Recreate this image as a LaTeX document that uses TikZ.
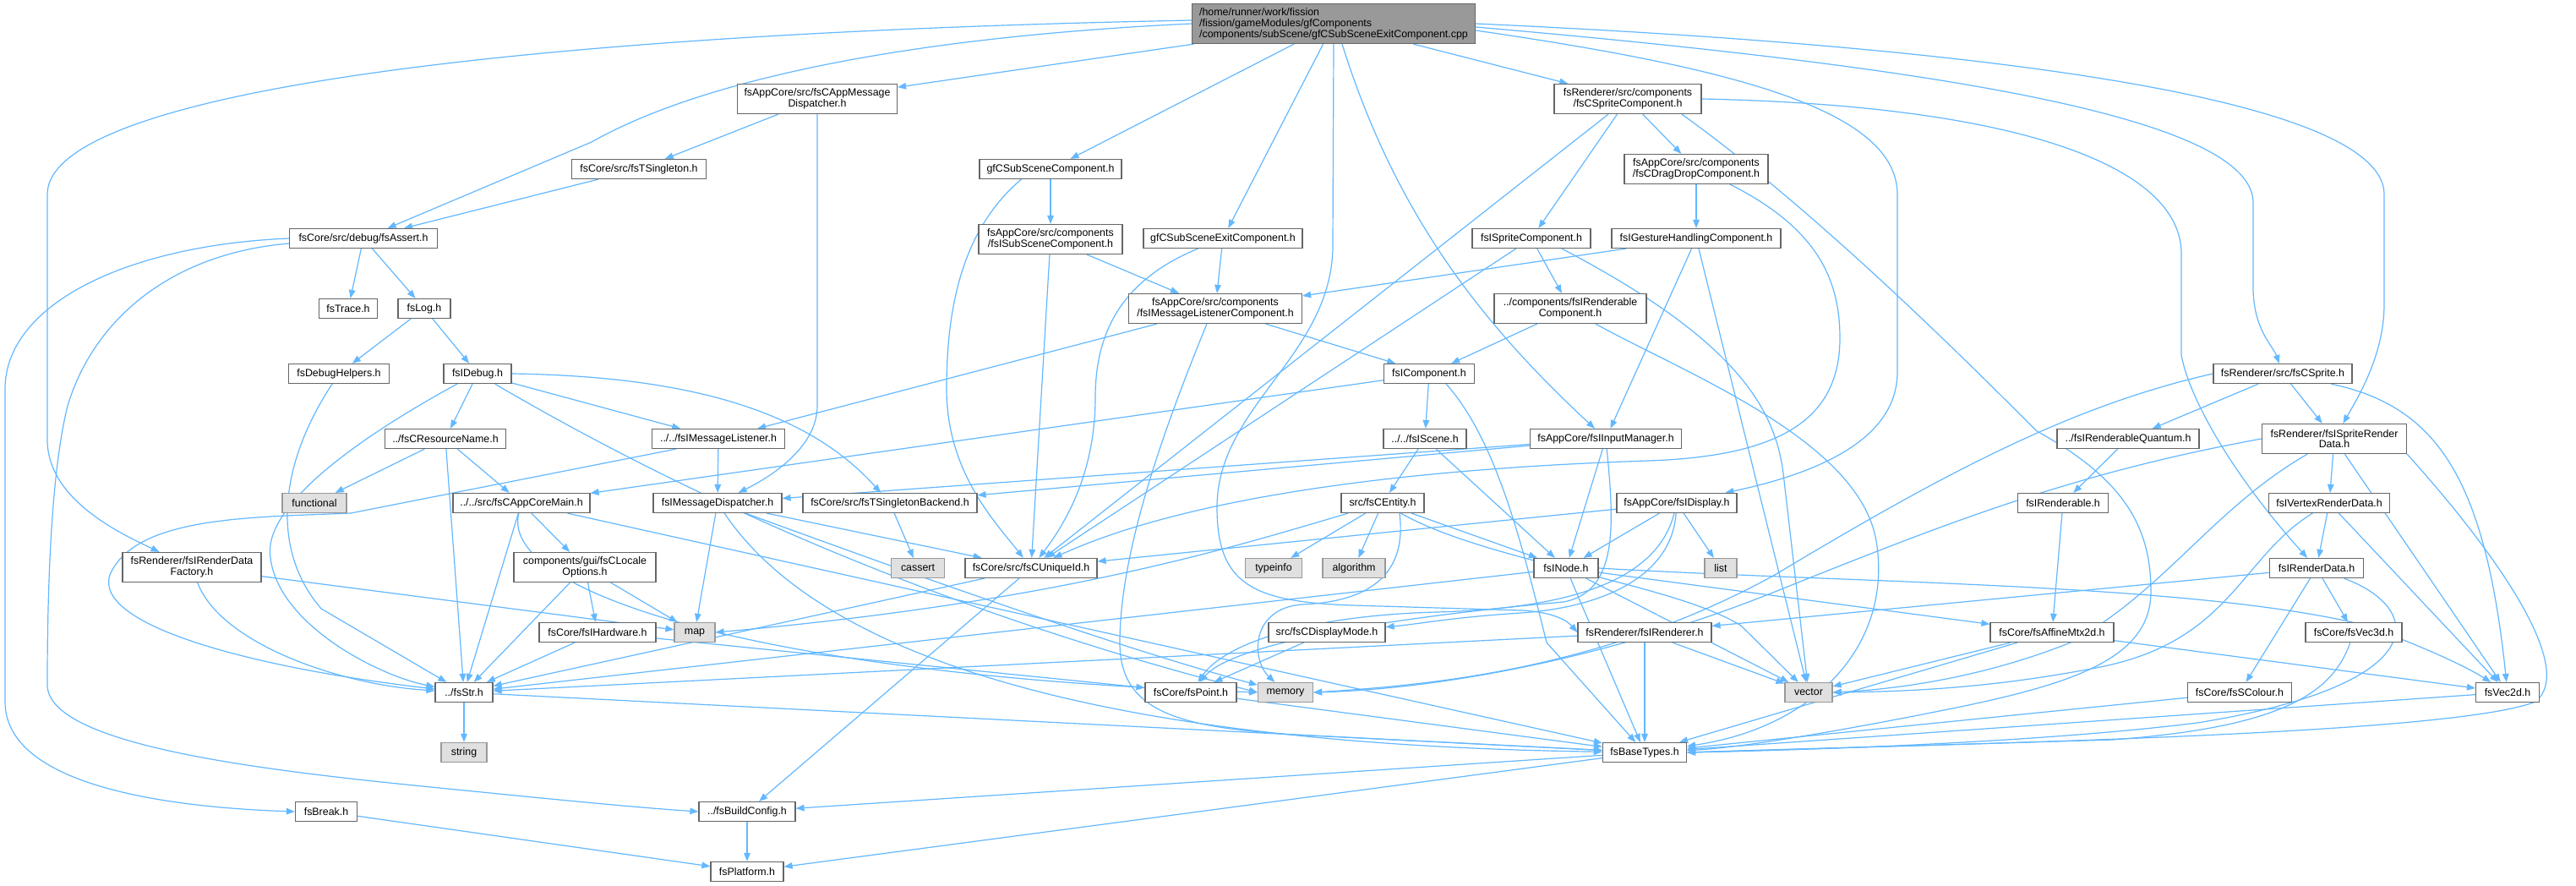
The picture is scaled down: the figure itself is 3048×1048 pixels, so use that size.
\documentclass[tikz,border=0pt]{standalone}
\usepackage{fontspec}
\setmainfont{Liberation Sans}
\usetikzlibrary{arrows.meta}
\pgfdeclarelayer{bg}
\pgfsetlayers{bg,main}
\definecolor{edgec}{HTML}{63B8FF}
\definecolor{bord}{HTML}{666666}
\definecolor{gfill}{HTML}{E0E0E0}
\definecolor{gbord}{HTML}{999999}
\definecolor{mfill}{HTML}{999999}
\begin{document}
\begin{tikzpicture}[x=0.5pt,y=-0.5pt,
  nb/.style={draw=bord, fill=white, line width=0.6pt, inner sep=0pt, minimum height=11.5pt, align=center, font=\fontsize{6.2pt}{6.4pt}\selectfont},
  gb/.style={nb, draw=gbord, fill=gfill},
  mb/.style={nb, fill=mfill, align=left, minimum height=23.5pt},
  tl/.style={minimum height=17.5pt},
  bw/.style={minimum width=#1*0.5pt},
  lk/.style={draw=edgec, line width=0.6pt, -{Triangle[length=5pt,width=3.8pt]}}]
\useasboundingbox (0,0) rectangle (3048,1048);
% ---------------- nodes ----------------
\node[mb, bw=335] (root) at (1578,28) {/home/runner/work/fission\\/fission/gameModules/gfComponents\\/components/subScene/gfCSubSceneExitComponent.cpp};
\node[nb, tl, bw=189] (appmsg) at (967,117) {fsAppCore/src/fsCAppMessage\\Dispatcher.h};
\node[nb, tl, bw=174] (spritecomp) at (1926,117) {fsRenderer/src/components\\/fsCSpriteComponent.h};
\node[nb, bw=159] (tsingleton) at (756,200) {fsCore/src/fsTSingleton.h};
\node[nb, bw=168] (subscene) at (1243,200) {gfCSubSceneComponent.h};
\node[nb, tl, bw=170] (dragdrop) at (2007,200) {fsAppCore/src/components\\/fsCDragDropComponent.h};
\node[nb, bw=175] (assert) at (430,282) {fsCore/src/debug/fsAssert.h};
\node[nb, tl, bw=170] (isubscene) at (1243,283) {fsAppCore/src/components\\/fsISubSceneComponent.h};
\node[nb, bw=188] (exitcomp) at (1447,282) {gfCSubSceneExitComponent.h};
\node[nb, bw=140] (ispritecomp) at (1812,282) {fsISpriteComponent.h};
\node[nb, bw=200] (gesture) at (2007,282) {fsIGestureHandlingComponent.h};
\node[nb, bw=69] (trace) at (412,365) {fsTrace.h};
\node[nb, bw=62] (log) at (502,365) {fsLog.h};
\node[nb, tl, bw=205] (msglistcomp) at (1438,365) {fsAppCore/src/components\\/fsIMessageListenerComponent.h};
\node[nb, tl, bw=180] (renderablecomp) at (1858,365) {../components/fsIRenderable\\Component.h};
\node[nb, bw=119] (debughelpers) at (401,442) {fsDebugHelpers.h};
\node[nb, bw=80] (idebug) at (565,442) {fsIDebug.h};
\node[nb, bw=107] (icomponent) at (1691,442) {fsIComponent.h};
\node[nb, bw=164] (csprite) at (2701,442) {fsRenderer/src/fsCSprite.h};
\node[nb, bw=143] (resname) at (527,519) {../fsCResourceName.h};
\node[nb, bw=157] (msglistener) at (850,519) {../../fsIMessageListener.h};
\node[nb, bw=98] (iscene) at (1686,519) {../../fsIScene.h};
\node[nb, bw=179] (inputmgr) at (1900,519) {fsAppCore/fsIInputManager.h};
\node[nb, bw=168] (rquantum) at (2518,519) {../fsIRenderableQuantum.h};
\node[nb, tl, bw=171] (spriterd) at (2762,519) {fsRenderer/fsISpriteRender\\Data.h};
\node[gb, bw=76] (functional) at (372,595) {functional};
\node[nb, bw=162] (appcoremain) at (617,595) {../../src/fsCAppCoreMain.h};
\node[nb, bw=152] (msgdisp) at (849,595) {fsIMessageDispatcher.h};
\node[nb, bw=206] (tsbackend) at (1053,595) {fsCore/src/fsTSingletonBackend.h};
\node[nb, bw=98] (centity) at (1636,595) {src/fsCEntity.h};
\node[nb, bw=142] (idisplay) at (1984,595) {fsAppCore/fsIDisplay.h};
\node[nb, bw=107] (irenderable) at (2441,595) {fsIRenderable.h};
\node[nb, bw=143] (vertexrd) at (2756,595) {fsIVertexRenderData.h};
\node[nb, tl, bw=164] (rdfactory) at (227,671) {fsRenderer/fsIRenderData\\Factory.h};
\node[nb, tl, bw=168] (locale) at (692,671) {components/gui/fsCLocale\\Options.h};
\node[gb, bw=63] (cassert) at (1086,672) {cassert};
\node[nb, bw=156] (uniqueid) at (1220,672) {fsCore/src/fsCUniqueId.h};
\node[gb, bw=67] (typeinfo) at (1507,672) {typeinfo};
\node[gb, bw=74] (algorithm) at (1602,672) {algorithm};
\node[nb, bw=76] (inode) at (1853,672) {fsINode.h};
\node[gb, bw=38] (list) at (2036,672) {list};
\node[nb, bw=111] (renderdata) at (2741,672) {fsIRenderData.h};
\node[nb, bw=138] (hardware) at (707,748) {fsCore/fsIHardware.h};
\node[gb, bw=48] (map) at (822,748) {map};
\node[nb, bw=138] (displaymode) at (1570,748) {src/fsCDisplayMode.h};
\node[nb, bw=158] (irenderer) at (1946,748) {fsRenderer/fsIRenderer.h};
\node[nb, bw=146] (affine) at (2428,748) {fsCore/fsAffineMtx2d.h};
\node[nb, bw=114] (vec3d) at (2785,748) {fsCore/fsVec3d.h};
\node[nb, bw=68] (str) at (549,819) {../fsStr.h};
\node[nb, bw=108] (point) at (1409,819) {fsCore/fsPoint.h};
\node[gb, bw=65] (memory) at (1521,819) {memory};
\node[gb, bw=56] (vector) at (2140,819) {vector};
\node[nb, bw=123] (scolour) at (2650,819) {fsCore/fsSColour.h};
\node[nb, bw=75] (vec2d) at (2967,819) {fsVec2d.h};
\node[gb, bw=54] (string) at (549,890) {string};
\node[nb, bw=99] (basetypes) at (1946,890) {fsBaseTypes.h};
\node[nb, bw=73] (break) at (386,960) {fsBreak.h};
\node[nb, bw=114] (buildconfig) at (884,960) {../fsBuildConfig.h};
\node[nb, bw=86] (platform) at (884,1031) {fsPlatform.h};
% ---------------- edges ----------------
\begin{pgfonlayer}{bg}
\fill[white] (0,0) rectangle (3048,1048);
% root
\draw[lk] (root.west) .. controls (1050,45) and (820,100) .. (700,168) -- (assert);
\draw[lk] ([yshift=2pt]root.west) .. controls (600,40) and (56,110) .. (56,230) -- (56,520) .. controls (56,590) and (140,630) .. (rdfactory);
\draw[lk] (root) -- (appmsg);
\draw[lk] (root) -- (subscene);
\draw[lk] (root) -- (exitcomp);
\draw[lk] (root.south) -- (1577,290) .. controls (1577,420) and (1440,480) .. (1440,600) .. controls (1440,690) and (1480,712) .. (1600,716) -- (1800,722) .. controls (1840,724) and (1855,735) .. (irenderer.west);
\draw[lk] ([xshift=5pt]root.south) .. controls (1650,250) and (1750,380) .. (inputmgr);
\draw[lk] (root) -- (spritecomp);
\draw[lk] ([yshift=-4pt]root.east) .. controls (2050,80) and (2245,130) .. (2245,230) -- (2245,440) .. controls (2245,520) and (2150,560) .. (idisplay);
\draw[lk] ([yshift=-2pt]root.east) .. controls (2300,80) and (2666,140) .. (2666,240) -- (2666,340) .. controls (2666,390) and (2690,410) .. (csprite);
\draw[lk] (root.east) .. controls (2450,60) and (2821,130) .. (2821,230) -- (2821,360) .. controls (2821,420) and (2790,470) .. (spriterd);
% level 1-3
\draw[lk] (appmsg) -- (tsingleton);
\draw[lk] (appmsg.south) -- (967,480) .. controls (967,530) and (910,565) .. (msgdisp);
\draw[lk] (tsingleton) -- (assert);
\draw[lk] (subscene) -- (isubscene);
\draw[lk] ([xshift=25pt]subscene.south west) .. controls (1140,270) and (1120,360) .. (1120,460) .. controls (1120,560) and (1180,620) .. (uniqueid);
\draw[lk] (isubscene) -- (msglistcomp);
\draw[lk] (isubscene) -- (uniqueid);
\draw[lk] (exitcomp) -- (msglistcomp);
\draw[lk] (exitcomp) .. controls (1330,330) and (1296,390) .. (1296,470) .. controls (1296,560) and (1260,620) .. (uniqueid);
\draw[lk] (spritecomp) -- (dragdrop);
\draw[lk] (spritecomp) -- (ispritecomp);
\draw[lk] (spritecomp) -- (uniqueid);
\draw[lk] (spritecomp.east) .. controls (2400,125) and (2581,200) .. (2581,300) -- (2581,420) .. controls (2590,470) and (2640,560) .. (renderdata);
\draw[lk] ([xshift=32pt]spritecomp.south) .. controls (2150,250) and (2330,430) .. (2410,510) .. controls (2520,570) and (2545,630) .. (2545,700) .. controls (2545,780) and (2450,810) .. (2300,840) .. controls (2150,870) and (2050,885) .. (basetypes);
\draw[lk] (dragdrop) -- (gesture);
\draw[lk] ([xshift=20pt]dragdrop.south) .. controls (2150,270) and (2177,330) .. (2177,400) .. controls (2177,500) and (2100,540) .. (1950,545) .. controls (1650,555) and (1400,590) .. (uniqueid);
\draw[lk] (gesture) -- (msglistcomp);
\draw[lk] (gesture) -- (inputmgr);
\draw[lk] (gesture) -- (vector);
\draw[lk] (ispritecomp) -- (renderablecomp);
\draw[lk] (ispritecomp) -- (uniqueid);
\draw[lk] ([xshift=18pt]ispritecomp.south) .. controls (2050,400) and (2100,480) .. (2110,560) -- (vector);
\draw[lk] (renderablecomp) -- (icomponent);
\draw[lk] ([xshift=15pt]renderablecomp.south) .. controls (1990,440) and (2200,520) .. (2220,640) .. controls (2240,760) and (2150,860) .. (basetypes);
\draw[lk] (msglistcomp) -- (icomponent);
\draw[lk] (msglistcomp) -- (msglistener);
\draw[lk] ([xshift=-5pt]msglistcomp.south) .. controls (1380,500) and (1325,650) .. (1325,760) .. controls (1325,845) and (1400,862) .. (1550,870) -- (basetypes);
% debug side
\draw[lk] (assert) -- (trace);
\draw[lk] (assert) -- (log);
\draw[lk] (assert.west) .. controls (150,290) and (6,360) .. (6,460) -- (6,830) .. controls (6,930) and (200,955) .. (break.west);
\draw[lk] ([yshift=-3pt]assert.west) .. controls (200,300) and (110,380) .. (80,480) .. controls (60,560) and (56,700) .. (56,810) .. controls (56,880) and (300,910) .. (500,930) .. controls (650,945) and (750,955) .. (buildconfig.west);
\draw[lk] (log) -- (debughelpers);
\draw[lk] (log) -- (idebug);
\draw[lk] (debughelpers) .. controls (330,550) and (320,650) .. (380,720) -- (str);
\draw[lk] (idebug) -- (resname);
\draw[lk] (idebug) -- (msglistener);
\draw[lk] ([xshift=-12pt]idebug.south) .. controls (420,520) and (310,600) .. (320,660) .. controls (330,740) and (450,800) .. (str);
\draw[lk] (idebug.east) .. controls (800,445) and (950,480) .. (tsbackend);
\draw[lk] (idebug) .. controls (800,580) and (1100,720) .. (memory.west);
\draw[lk] (resname) -- (functional);
\draw[lk] (resname) -- (appcoremain);
\draw[lk] (resname) -- (str);
\draw[lk] (msglistener) -- (msgdisp);
\draw[lk] ([xshift=-25pt]msglistener.south) -- (415,607) .. controls (300,612) and (160,610) .. (130,680) .. controls (110,740) and (300,790) .. (str);
\draw[lk] (icomponent) -- (iscene);
\draw[lk] (icomponent) -- (appcoremain);
\draw[lk] ([xshift=10pt]icomponent.south) .. controls (1770,520) and (1800,640) .. (1830,760) -- (basetypes);
\draw[lk] (appcoremain) -- (locale);
\draw[lk] (appcoremain) -- (str);
\draw[lk] (appcoremain) -- (basetypes);
\draw[lk] (appcoremain) .. controls (590,700) and (900,800) .. (memory.west);
\draw[lk] (locale) -- (hardware);
\draw[lk] (locale) -- (map);
\draw[lk] (locale) -- (str);
\draw[lk] (hardware) -- (str);
\draw[lk] (hardware) -- (point);
\draw[lk] (rdfactory) -- (map);
\draw[lk] (rdfactory) .. controls (260,760) and (400,810) .. (str);
% middle
\draw[lk] (msgdisp) -- (uniqueid);
\draw[lk] (msgdisp) -- (map);
\draw[lk] (msgdisp) .. controls (960,760) and (1250,880) .. (basetypes);
\draw[lk] (msgdisp) .. controls (1000,650) and (1300,760) .. (memory);
\draw[lk] (tsbackend) -- (cassert);
\draw[lk] (iscene) -- (centity);
\draw[lk] (iscene) -- (inode);
\draw[lk] (centity) -- (typeinfo);
\draw[lk] (centity) -- (algorithm);
\draw[lk] (centity) -- (inode);
\draw[lk] (centity) .. controls (1450,650) and (1250,712) .. (map.east);
\draw[lk] ([xshift=10pt]centity.south) .. controls (1665,680) and (1620,712) .. (1540,715) .. controls (1480,720) and (1480,780) .. (memory);
\draw[lk] (centity) .. controls (1760,665) and (1980,690) .. (2060,740) -- (vector);
\draw[lk] (inputmgr) -- (inode);
\draw[lk] (inputmgr) -- (tsbackend);
\draw[lk] (inputmgr) -- (msgdisp);
\draw[lk] (inputmgr) .. controls (1910,620) and (1915,700) .. (1850,712) .. controls (1650,730) and (1460,760) .. (point);
\draw[lk] (idisplay) -- (inode);
\draw[lk] (idisplay) -- (list);
\draw[lk] (idisplay) -- (uniqueid);
\draw[lk] (idisplay) .. controls (1978,680) and (1900,718) .. (1800,725) .. controls (1720,730) and (1680,738) .. (displaymode);
\draw[lk] (idisplay) .. controls (1960,690) and (1850,720) .. (1700,724) .. controls (1550,728) and (1450,760) .. (point);
\draw[lk] (displaymode) -- (point);
\draw[lk] (uniqueid) -- (buildconfig);
\draw[lk] (uniqueid) -- (str);
\draw[lk] (inode) -- (affine);
\draw[lk] (inode.east) .. controls (2200,690) and (2600,690) .. (2800,740) .. controls (2880,770) and (2920,790) .. (vec2d);
\draw[lk] (inode) -- (vector);
\draw[lk] (inode) -- (str);
\draw[lk] (inode) -- (basetypes);
\draw[lk] (irenderer) -- (basetypes);
\draw[lk] (irenderer) -- (vector);
\draw[lk] (irenderer) -- (str);
% right side
\draw[lk] (csprite) -- (spriterd);
\draw[lk] (csprite) -- (rquantum);
\draw[lk] (csprite) .. controls (2880,480) and (2940,560) .. (vec2d);
\draw[lk] (csprite.west) .. controls (2450,480) and (2300,560) .. (2100,680) .. controls (1900,790) and (1700,810) .. (memory.east);
\draw[lk] (rquantum) -- (irenderable);
\draw[lk] (irenderable) -- (affine);
\draw[lk] (affine) -- (vector);
\draw[lk] (affine) -- (basetypes);
\draw[lk] (affine) -- (vec2d);
\draw[lk] (spriterd) -- (vertexrd);
\draw[lk] (spriterd) -- (vec2d);
\draw[lk] (spriterd.south east) .. controls (2950,650) and (3050,790) .. (3000,830) .. controls (2900,870) and (2300,880) .. (basetypes.east);
\draw[lk] (spriterd) .. controls (2620,600) and (2560,700) .. (2450,760) .. controls (2350,800) and (2250,815) .. (vector.east);
\draw[lk] (spriterd.west) .. controls (2450,560) and (2300,620) .. (2100,700) .. controls (1900,780) and (1700,815) .. (memory.east);
\draw[lk] (vertexrd) -- (renderdata);
\draw[lk] (vertexrd) -- (vec2d);
\draw[lk] (vertexrd) .. controls (2650,660) and (2640,760) .. (2480,790) .. controls (2350,815) and (2250,818) .. (vector.east);
\draw[lk] (renderdata) -- (irenderer);
\draw[lk] (renderdata) -- (scolour);
\draw[lk] (renderdata) -- (vec3d);
\draw[lk] (renderdata) .. controls (2870,720) and (2880,810) .. (2600,855) .. controls (2400,880) and (2100,888) .. (basetypes.east);
\draw[lk] (vec3d) .. controls (2760,820) and (2700,860) .. (2500,875) -- (basetypes.east);
\draw[lk] (scolour) -- (basetypes);
\draw[lk] (vec2d) -- (basetypes);
% bottom
\draw[lk] (str) -- (string);
\draw[lk] (str) -- (basetypes);
\draw[lk] (point) -- (basetypes);
\draw[lk] (break) -- (platform);
\draw[lk] (buildconfig) -- (platform);
\draw[lk] (basetypes) -- (buildconfig);
\draw[lk] (basetypes) -- (platform);
\end{pgfonlayer}
\end{tikzpicture}
\end{document}
